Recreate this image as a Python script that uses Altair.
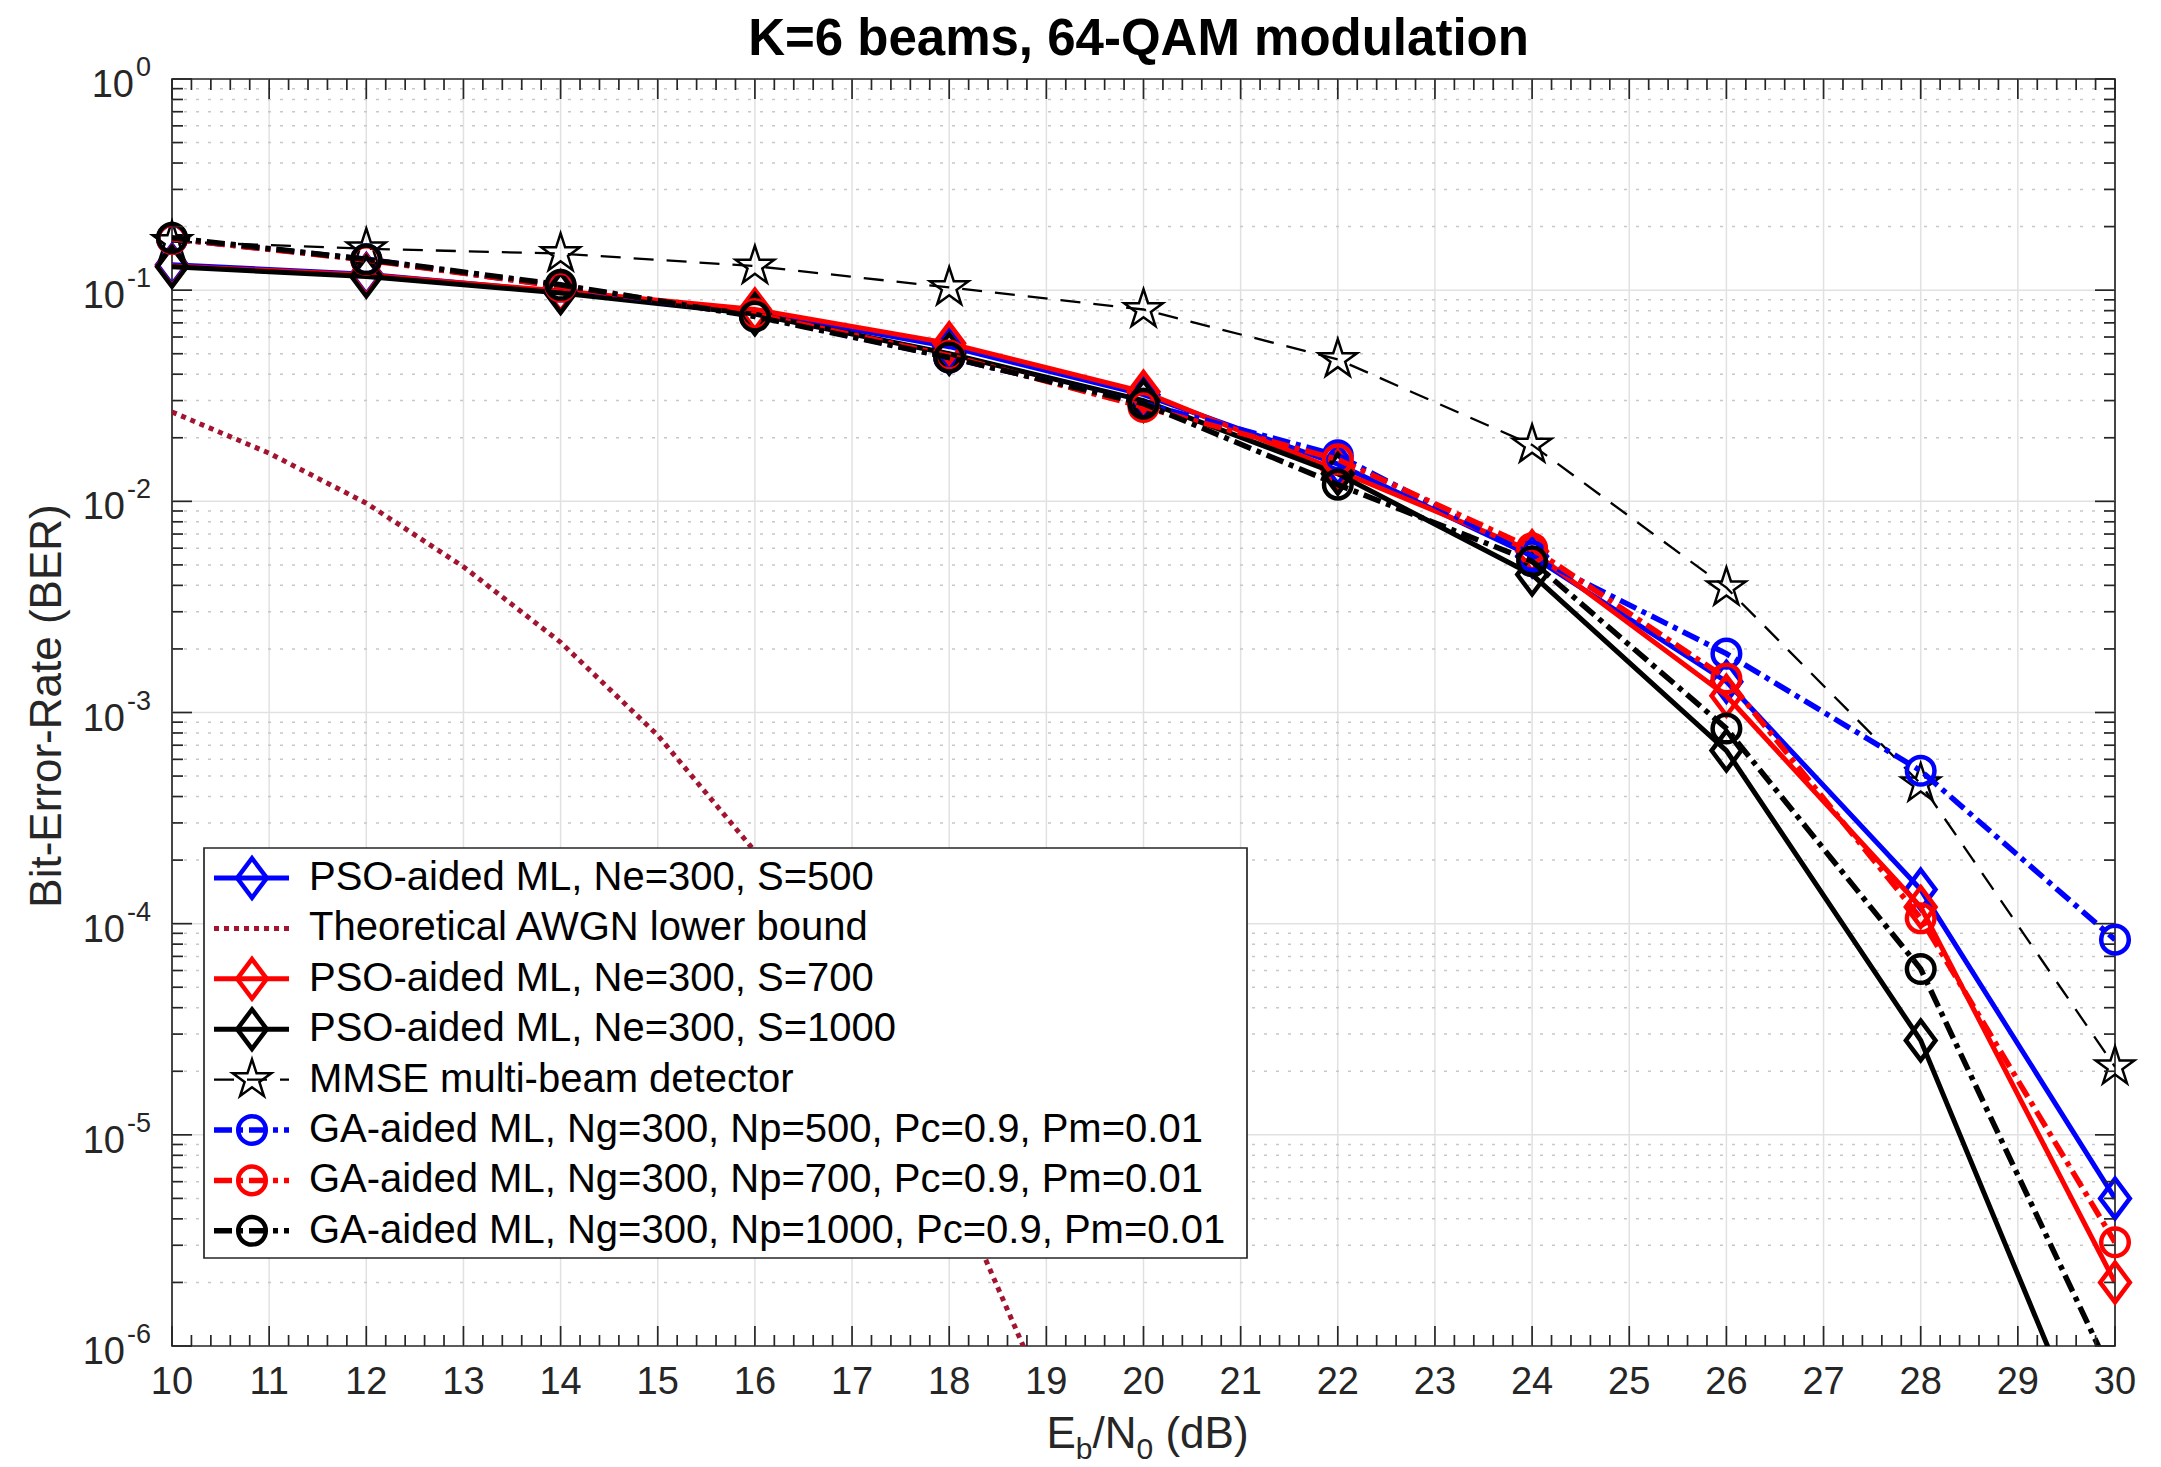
import altair as alt
import pandas as pd

# ---------------- data ----------------
snr = [10, 12, 14, 16, 18, 20, 22, 24, 26, 28, 30]
pso_s500 = [0.132, 0.119, 0.098, 0.079, 0.054, 0.032, 0.015, 0.0055, 0.0014, 1.45e-4, 5.0e-6]
pso_s700 = [0.130, 0.118, 0.099, 0.081, 0.056, 0.033, 0.014, 0.0058, 0.0012, 1.2e-4, 2.0e-6]
pso_s1000 = [0.129, 0.116, 0.097, 0.077, 0.050, 0.030, 0.0135, 0.0045, 6.6e-4, 2.8e-5, 1.7e-7]
mmse = [0.170, 0.157, 0.149, 0.130, 0.103, 0.081, 0.047, 0.0185, 0.0039, 4.6e-4, 2.1e-5]
ga_np500 = [0.175, 0.140, 0.104, 0.076, 0.048, 0.029, 0.0165, 0.0055, 0.0019, 5.3e-4, 8.4e-5]
ga_np700 = [0.175, 0.139, 0.104, 0.077, 0.049, 0.028, 0.0158, 0.0060, 0.00145, 1.06e-4, 3.1e-6]
ga_np1000 = [0.177, 0.140, 0.106, 0.075, 0.048, 0.029, 0.012, 0.0052, 8.4e-4, 6.1e-5, 6.8e-7]

awgn_snr = [10, 11, 12, 13, 14, 15, 16, 17, 18, 19]
awgn_ber = [0.0265, 0.0169, 0.0098, 0.0049, 0.00215, 7.8e-4, 2.2e-4, 4.5e-5, 6.4e-6, 5.6e-7]

x_ticks = list(range(10, 31))
y_decades = [1e-6, 1e-5, 1e-4, 1e-3, 1e-2, 1e-1, 1e0]
y_exponents = ["-6", "-5", "-4", "-3", "-2", "-1", "0"]

legend_labels = [
    "PSO-aided ML, Ne=300, S=500",
    "Theoretical AWGN lower bound",
    "PSO-aided ML, Ne=300, S=700",
    "PSO-aided ML, Ne=300, S=1000",
    "MMSE multi-beam detector",
    "GA-aided ML, Ng=300, Np=500, Pc=0.9, Pm=0.01",
    "GA-aided ML, Ng=300, Np=700, Pc=0.9, Pm=0.01",
    "GA-aided ML, Ng=300, Np=1000, Pc=0.9, Pm=0.01",
]

# ---------------- layout / style ----------------
W, H = 1943, 1267
FONT = "Liberation Sans, Arial, Helvetica, sans-serif"
AX = "#262626"
BLUE, RED, BLACK, DRED = "#0000ff", "#ff0000", "#000000", "#a2142f"

DIAMOND = "M0,-1L0.75,0L0,1L-0.75,0Z"
STAR = ("M0,-1L0.2245,-0.309L0.9511,-0.309L0.3633,0.118L0.5878,0.809L0,0.382"
        "L-0.5878,0.809L-0.3633,0.118L-0.9511,-0.309L-0.2245,-0.309Z")
DASHDOT = [18, 6, 5, 6]
DASHED = [20, 13]
DOTTED = [5, 5]

xs = alt.Scale(domain=[10, 30], nice=False, zero=False)
ys = alt.Scale(type="log", domain=[1e-6, 1], nice=False)

# series: label, x, y, color, line width, dash, marker shape, marker size, marker stroke
series = [
    (legend_labels[0], snr, pso_s500, BLUE, 5, None, DIAMOND, 1560, 4.5),
    (legend_labels[1], awgn_snr, awgn_ber, DRED, 5, DOTTED, None, 0, 0),
    (legend_labels[2], snr, pso_s700, RED, 5, None, DIAMOND, 1560, 4.5),
    (legend_labels[3], snr, pso_s1000, BLACK, 5, None, DIAMOND, 1560, 4.5),
    (legend_labels[4], snr, mmse, BLACK, 2.3, DASHED, STAR, 1650, 2.5),
    (legend_labels[5], snr, ga_np500, BLUE, 5.5, DASHDOT, "circle", 760, 4.5),
    (legend_labels[6], snr, ga_np700, RED, 5.5, DASHDOT, "circle", 760, 4.5),
    (legend_labels[7], snr, ga_np1000, BLACK, 5.5, DASHDOT, "circle", 760, 4.5),
]

one = pd.DataFrame({"a": [0]})
layers = []

# ---- grid ----
xgrid = pd.DataFrame({"v": x_ticks[1:-1]})
layers.append(alt.Chart(xgrid).mark_rule(color="#e1e1e1", strokeWidth=1.5).encode(
    x=alt.X("v:Q", scale=xs, axis=None), y=alt.value(0), y2=alt.value(H)))
ygrid = pd.DataFrame({"v": y_decades[1:-1]})
layers.append(alt.Chart(ygrid).mark_rule(color="#e1e1e1", strokeWidth=1.5).encode(
    y=alt.Y("v:Q", scale=ys, axis=None), x=alt.value(0), x2=alt.value(W)))
yminor_vals = [m * 10.0 ** e for e in range(-6, 0) for m in range(2, 10)]
yminor = pd.DataFrame({"v": yminor_vals})
layers.append(alt.Chart(yminor).mark_rule(color="#c8c8c8", strokeWidth=1.5, strokeDash=[3, 9]).encode(
    y=alt.Y("v:Q", scale=ys, axis=None), x=alt.value(0), x2=alt.value(W)))

# ---- data series ----
for (lab, xv, yv, col, lw, dash, shape, msize, msw) in series:
    df = pd.DataFrame({"snr": xv, "ber": yv})
    lkw = dict(color=col, strokeWidth=lw, clip=True)
    if dash is not None:
        lkw["strokeDash"] = dash
    layers.append(alt.Chart(df).mark_line(**lkw).encode(
        x=alt.X("snr:Q", scale=xs, axis=None),
        y=alt.Y("ber:Q", scale=ys, axis=None)))
    if shape is not None:
        layers.append(alt.Chart(df).transform_filter(alt.datum.ber >= 1e-6).mark_point(
            shape=shape, size=msize, filled=False, stroke=col, strokeWidth=msw,
            opacity=1).encode(
            x=alt.X("snr:Q", scale=xs, axis=None),
            y=alt.Y("ber:Q", scale=ys, axis=None)))

# ---- ticks (inward, on all four sides) ----
xmaj = pd.DataFrame({"v": x_ticks})
xmin_vals = [round(10 + 0.2 * k, 1) for k in range(101) if k % 5 != 0]
xmin = pd.DataFrame({"v": xmin_vals})
for df, ln in [(xmaj, 20), (xmin, 11)]:
    layers.append(alt.Chart(df).mark_rule(color=AX, strokeWidth=1.7).encode(
        x=alt.X("v:Q", scale=xs, axis=None), y=alt.value(H), y2=alt.value(H - ln)))
    layers.append(alt.Chart(df).mark_rule(color=AX, strokeWidth=1.7).encode(
        x=alt.X("v:Q", scale=xs, axis=None), y=alt.value(0), y2=alt.value(ln)))
ymaj = pd.DataFrame({"v": y_decades})
for df, ln in [(ymaj, 20), (yminor, 11)]:
    layers.append(alt.Chart(df).mark_rule(color=AX, strokeWidth=1.7).encode(
        y=alt.Y("v:Q", scale=ys, axis=None), x=alt.value(0), x2=alt.value(ln)))
    layers.append(alt.Chart(df).mark_rule(color=AX, strokeWidth=1.7).encode(
        y=alt.Y("v:Q", scale=ys, axis=None), x=alt.value(W), x2=alt.value(W - ln)))

# ---- tick labels ----
xlab = pd.DataFrame({"v": x_ticks, "t": [str(v) for v in x_ticks]})
layers.append(alt.Chart(xlab).mark_text(font=FONT, fontSize=38, color=AX, baseline="middle",
                                        align="center").encode(
    x=alt.X("v:Q", scale=xs, axis=None), y=alt.value(H + 37), text="t:N"))
ten_right = [-38 if e == "0" else -47 for e in y_exponents]
ylab = pd.DataFrame({"v": y_decades, "e": y_exponents, "tx": ten_right,
                     "ex": [t + 2 for t in ten_right]})
layers.append(alt.Chart(ylab).mark_text(font=FONT, fontSize=38, color=AX, align="right",
                                        baseline="alphabetic", dy=18).encode(
    x=alt.X("tx:Q", scale=None), y=alt.Y("v:Q", scale=ys, axis=None), text=alt.value("10")))
layers.append(alt.Chart(ylab).mark_text(font=FONT, fontSize=27, color=AX, align="left",
                                        baseline="alphabetic", dy=-3).encode(
    x=alt.X("ex:Q", scale=None), y=alt.Y("v:Q", scale=ys, axis=None), text="e:N"))

# ---- axis titles ----
layers.append(alt.Chart(one).mark_text(font=FONT, fontSize=44, color=AX, angle=270,
                                       align="center", baseline="middle").encode(
    x=alt.value(-124), y=alt.value(627), text=alt.value("Bit-Error-Rate (BER)")))
# E_b/N_0 (dB) composed of pieces with subscripts
big, small = 44, 30
pieces = [("E", big, 0.667, 0), ("b", small, 0.556, 0), ("/N", big, 1.0, 0), ("0", small, 0.556, 0),
          ("(dB)", big, 1.889, 0.278 * big)]
total = sum(fs * w + gap for _, fs, w, gap in pieces)
cx = W / 2 - total / 2 + 4
for txt, fs, wem, gap in pieces:
    cx += gap
    base = H + 102 if fs == big else H + 113
    layers.append(alt.Chart(one).mark_text(font=FONT, fontSize=fs, color=AX, align="left",
                                           baseline="alphabetic").encode(
        x=alt.value(cx), y=alt.value(base), text=alt.value(txt)))
    cx += fs * wem

# ---- title ----
layers.append(alt.Chart(one).mark_text(font=FONT, fontSize=51, fontWeight="bold", color="#000000",
                                       align="center", baseline="alphabetic").encode(
    x=alt.value(W / 2 - 5), y=alt.value(-24), text=alt.value("K=6 beams, 64-QAM modulation")))

# ---- legend (drawn by hand, MATLAB style) ----
LX0, LX1, LY0, LY1 = 32, 1075, 769, 1179
layers.append(alt.Chart(one).mark_rect(fill="#ffffff", stroke=AX, strokeWidth=1.7).encode(
    x=alt.value(LX0), x2=alt.value(LX1), y=alt.value(LY0), y2=alt.value(LY1)))
row_y = [799 + i * 50.4 for i in range(len(series))]
for (lab, xv, yv, col, lw, dash, shape, msize, msw), yy in zip(series, row_y):
    rkw = dict(color=col, strokeWidth=lw)
    if dash is not None:
        rkw["strokeDash"] = dash
    layers.append(alt.Chart(one).mark_rule(**rkw).encode(
        x=alt.value(42), x2=alt.value(117), y=alt.value(yy), y2=alt.value(yy)))
    if shape is not None:
        layers.append(alt.Chart(one).mark_point(
            shape=shape, size=msize, filled=False, stroke=col, strokeWidth=msw, opacity=1,
            fill="#ffffff", fillOpacity=0).encode(x=alt.value(80), y=alt.value(yy)))
leg = pd.DataFrame({"label": legend_labels, "py": row_y})
layers.append(alt.Chart(leg).mark_text(font=FONT, fontSize=40, color="#000000", align="left",
                                       baseline="middle").encode(
    x=alt.value(137), y=alt.Y("py:Q", scale=None), text="label:N"))

chart = alt.layer(*layers).properties(
    width=W, height=H,
    padding={"left": 172, "top": 79, "right": 46, "bottom": 121},
    autosize=alt.AutoSizeParams(type="none"),
    background="#ffffff",
).configure_view(stroke=AX, strokeWidth=1.7)

chart.save("out.html", embed_options={"renderer": "svg", "actions": False})
